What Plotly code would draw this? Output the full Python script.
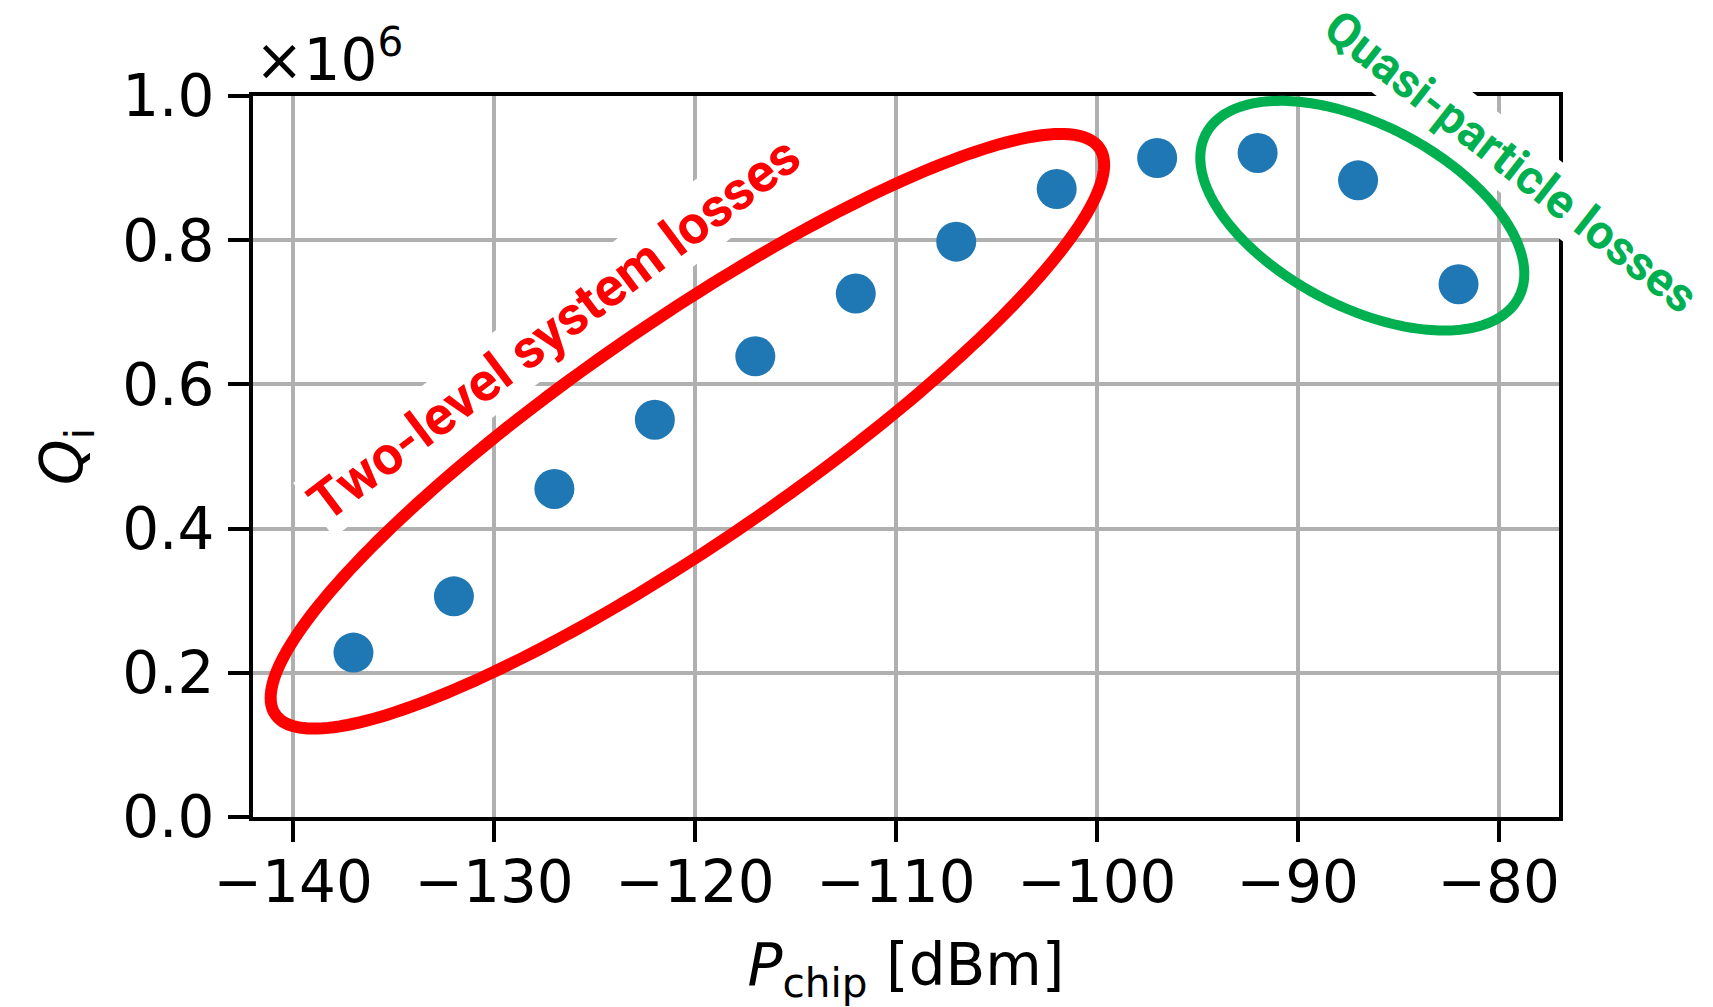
import numpy as np
import plotly.graph_objects as go

# ---------------- data ----------------
p_chip_dbm = [-137, -132, -127, -122, -117, -112, -107, -102, -97, -92, -87, -82]
q_i_1e6 = [0.228, 0.306, 0.455, 0.551, 0.639, 0.726, 0.798, 0.871, 0.914, 0.921, 0.883, 0.739]

x_ticks = [-140, -130, -120, -110, -100, -90, -80]
x_tick_labels = ["\u2212140", "\u2212130", "\u2212120", "\u2212110", "\u2212100", "\u221290", "\u221280"]
y_ticks = [0.0, 0.2, 0.4, 0.6, 0.8, 1.0]
y_tick_labels = ["0.0", "0.2", "0.4", "0.6", "0.8", "1.0"]

tls_label = "Two-level system losses"
qp_label = "Quasi-particle losses"
offset_label = "\u00d710<sup>6</sup>"
x_title = "<i>P</i><sub>chip</sub> [dBm]"
y_title = "<i>Q</i><sub>i</sub>"

# ---------------- layout geometry ----------------
W, H = 1713, 1007
MARG = dict(l=253, r=154, t=96, b=190)
X_RANGE = [-142, -77]
Y_RANGE = [0, 1]
plot_w = W - MARG["l"] - MARG["r"]
plot_h = H - MARG["t"] - MARG["b"]
px_per_x = plot_w / (X_RANGE[1] - X_RANGE[0])
px_per_y = plot_h / (Y_RANGE[1] - Y_RANGE[0])

RED = "#ff0000"
GREEN = "#00b050"
BLUE = "#1f77b4"
AXFONT = "DejaVu Sans"


def ellipse_path(cx, cy, a_px, b_px, ang_deg, n=240):
    """Rotated ellipse (semi-axes in screen px) centred on a data point, as paper path."""
    t = np.linspace(0, 2 * np.pi, n)
    th = np.deg2rad(ang_deg)
    dx = a_px * np.cos(t) * np.cos(th) - b_px * np.sin(t) * np.sin(th)
    dy = a_px * np.cos(t) * np.sin(th) + b_px * np.sin(t) * np.cos(th)
    xs = cx + dx / px_per_x
    ys = cy + dy / px_per_y
    px = (xs - X_RANGE[0]) / (X_RANGE[1] - X_RANGE[0])
    py = (ys - Y_RANGE[0]) / (Y_RANGE[1] - Y_RANGE[0])
    pts = " L ".join(f"{a:.5f},{b:.5f}" for a, b in zip(px, py))
    return "M " + pts + " Z"


fig = go.Figure()
fig.add_trace(go.Scatter(
    x=p_chip_dbm, y=q_i_1e6, mode="markers",
    marker=dict(size=40, color=BLUE, line=dict(width=0)),
    showlegend=False, cliponaxis=False,
))

# ellipses highlighting the two regimes
fig.add_shape(type="path", xref="paper", yref="paper", layer="above",
              path=ellipse_path(-120.38, 0.535, 500, 110, 34.5),
              line=dict(color=RED, width=12))
fig.add_shape(type="path", xref="paper", yref="paper", layer="above",
              path=ellipse_path(-86.79, 0.834, 176.5, 91, -27.6),
              line=dict(color=GREEN, width=10))

# region labels
fig.add_annotation(x=-127.0, y=0.678, xref="x", yref="y", text=tls_label,
                   showarrow=False, textangle=-37, xanchor="center", yanchor="middle",
                   font=dict(family="Roboto", size=54, color=RED, weight="bold"),
                   bgcolor="white", borderpad=2)
fig.add_annotation(x=-79.4, y=0.9085, xref="x", yref="y", text=qp_label,
                   showarrow=False, textangle=38, xanchor="center", yanchor="middle",
                   font=dict(family="Roboto", size=48, color=GREEN, weight="bold"),
                   bgcolor="white", borderpad=2)

# offset text
fig.add_annotation(x=0, y=1, xref="paper", yref="paper", text=offset_label,
                   showarrow=False, xanchor="left", yanchor="bottom", xshift=0, yshift=0,
                   font=dict(family=AXFONT, size=58, color="black"))

axis_common = dict(
    showline=True, linecolor="black", linewidth=4, mirror=True,
    ticks="outside", ticklen=21, tickwidth=4, tickcolor="black",
    showgrid=True, gridcolor="#b0b0b0", gridwidth=3.5,
    zeroline=False,
    tickfont=dict(family=AXFONT, size=58, color="black"),
)

fig.update_xaxes(range=X_RANGE, tickvals=x_ticks, ticktext=x_tick_labels,
                 ticklabelstandoff=-10,
                 title=dict(text=x_title, font=dict(family=AXFONT, size=58, color="black"), standoff=34),
                 **axis_common)
fig.update_yaxes(range=Y_RANGE, tickvals=y_ticks, ticktext=y_tick_labels,
                 ticklabelstandoff=2,
                 title=dict(text=y_title, font=dict(family=AXFONT, size=58, color="black"), standoff=22),
                 **axis_common)

fig.update_layout(
    width=W, height=H, autosize=False,
    margin=dict(l=MARG["l"], r=MARG["r"], t=MARG["t"], b=MARG["b"], pad=0),
    plot_bgcolor="white", paper_bgcolor="white",
)

fig.write_html("out.html")
